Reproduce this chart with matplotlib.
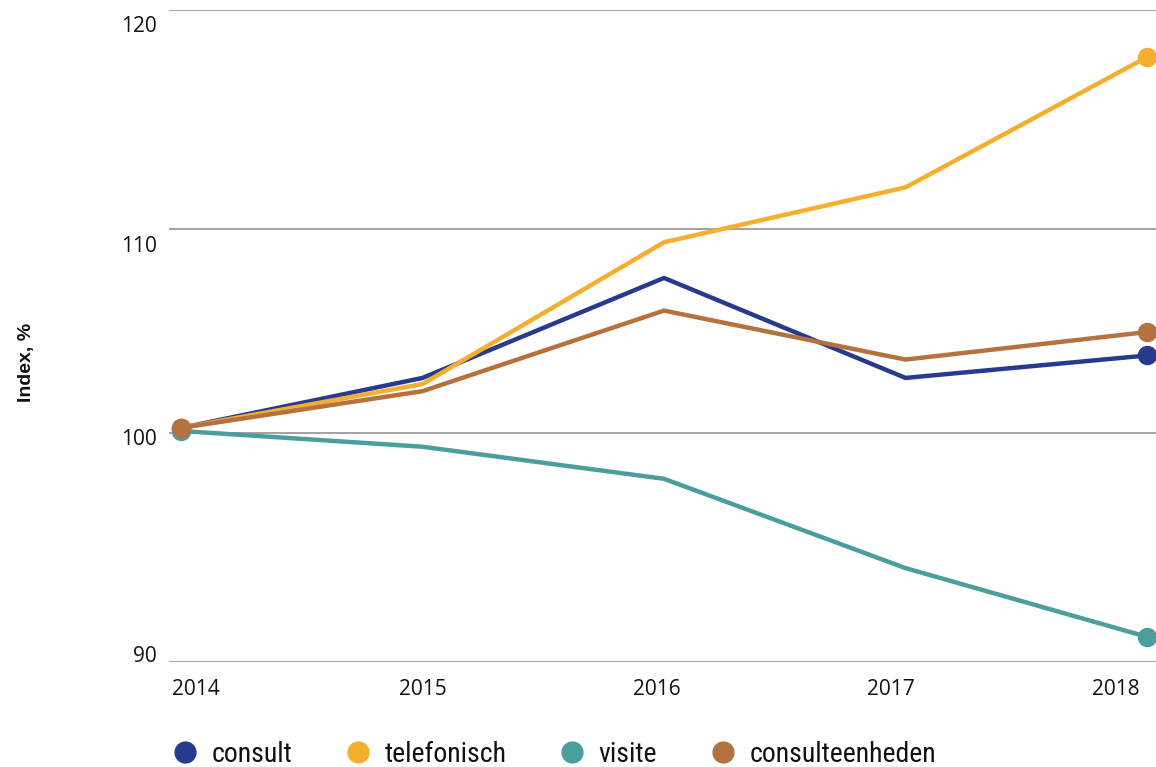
import numpy as np
import matplotlib
matplotlib.use("Agg")
import matplotlib.pyplot as plt
from matplotlib.lines import Line2D
from matplotlib.transforms import ScaledTranslation

years = [2014, 2015, 2016, 2017, 2018]
consult = [100.25, 102.7, 107.6, 102.7, 103.8]
telefonisch = [100.25, 102.4, 109.35, 111.9, 117.85]
visite = [100.1, 99.4, 98.0, 94.1, 91.1]
consulteenheden = [100.25, 102.05, 106.0, 103.6, 104.95]
series_names = ["consult", "telefonisch", "visite", "consulteenheden"]
y_ticks = [90, 100, 110, 120]
y_label = "Index, %"

colors = ["#283a8e", "#f5ae2d", "#4a9e9c", "#b5723f"]

# non-uniform vertical scale (grid spacing as in the original)
knots_v = [90, 100, 110, 120]
knots_p = [0, 229, 433, 652]
def fwd(v):
    return np.interp(v, knots_v, knots_p)
def inv(p):
    return np.interp(p, knots_p, knots_v)

fig = plt.figure(figsize=(11.56, 7.67), dpi=100)
ax = fig.add_axes([169/1156, 1-662/767, 1-169/1156, (662-10)/767])
ax.set_yscale("function", functions=(fwd, inv))

tick_font = ["Open Sans", "DejaVu Sans"]
for vals, c in zip([consult, telefonisch, visite, consulteenheden], colors):
    ax.plot(years, vals, color=c, lw=3.2, marker="o", markevery=[0, len(vals)-1],
            markersize=13, clip_on=False, solid_capstyle="round", zorder=3)

ax.set_ylim(90, 120)
ax.set_xlim(2014 - 12/241.5, 2018 + 9/241.5)
ax.set_yticks(y_ticks)
ax.set_xticks(years)
ax.set_xticklabels([str(y) for y in years])
ax.grid(axis="y", color="#9a9a9a", lw=1.3)
ax.grid(axis="x", visible=False)
ax.set_axisbelow(True)
for s in ax.spines.values():
    s.set_visible(False)
ax.tick_params(axis="both", length=0, labelsize=15, colors="#111111")
ax.tick_params(axis="y", pad=9)
ax.tick_params(axis="x", pad=12)
for lab in ax.get_xticklabels() + ax.get_yticklabels():
    lab.set_family(tick_font)
    lab.set_fontweight("medium")
xl = ax.get_xticklabels()
xl[0].set_transform(xl[0].get_transform() + ScaledTranslation(15/100, 0, fig.dpi_scale_trans))
xl[2].set_transform(xl[2].get_transform() + ScaledTranslation(-7/100, 0, fig.dpi_scale_trans))
xl[3].set_transform(xl[3].get_transform() + ScaledTranslation(-15/100, 0, fig.dpi_scale_trans))
xl[-1].set_transform(xl[-1].get_transform() + ScaledTranslation(-31/100, 0, fig.dpi_scale_trans))
for lab, dy in zip(ax.get_yticklabels(), [8, -4, -15, -14]):
    lab.set_transform(lab.get_transform() + ScaledTranslation(0, dy/100, fig.dpi_scale_trans))

fig.text(27/1156, 1-362/767, y_label, rotation=90, ha="center", va="center",
         fontsize=14, fontweight="bold", family=["Liberation Sans", "DejaVu Sans"], color="#111111")

handles = [Line2D([], [], ls="none", marker="o", markersize=15, color=c) for c in colors]
leg = fig.legend(handles, series_names, loc="center left",
                 bbox_to_anchor=(175/1156, 1-754/767), ncol=4, frameon=False,
                 borderaxespad=0, borderpad=0, handlelength=0.72, handletextpad=0.6,
                 columnspacing=2.0,
                 prop={"family": ["Liberation Sans Narrow", "Roboto Condensed", "Open Sans"], "size": 20})
for t in leg.get_texts():
    t.set_color("#111111")

fig.savefig("out.png", dpi=100)
